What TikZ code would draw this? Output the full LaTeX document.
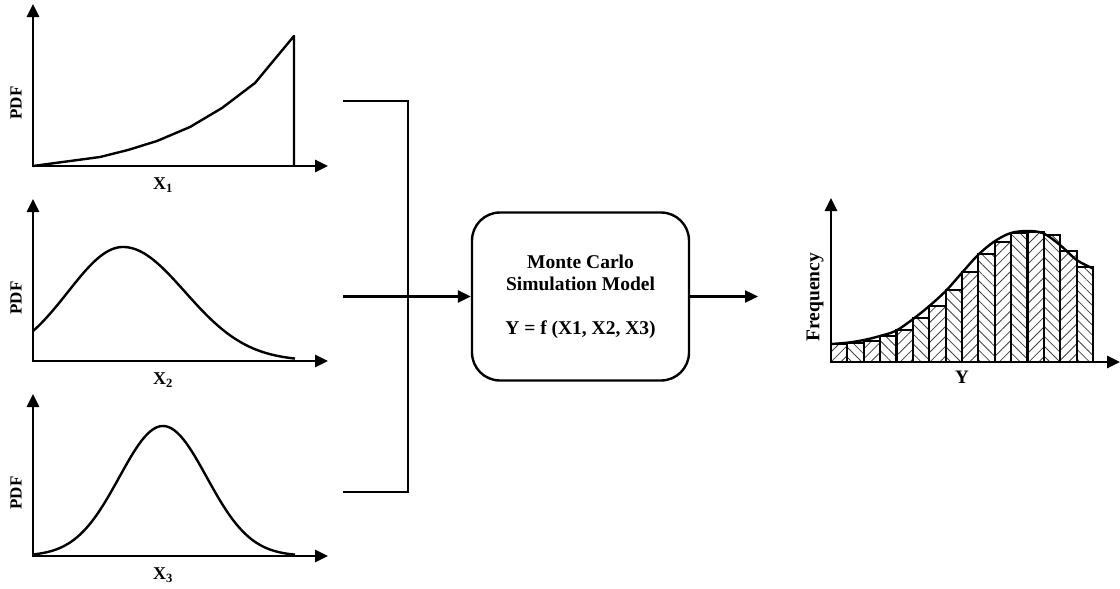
\documentclass[tikz,border=0pt]{standalone}
\usepackage{fontspec}
\setmainfont{Liberation Serif}
\usetikzlibrary{arrows.meta,patterns.meta}
\begin{document}
\begin{tikzpicture}[x=1pt,y=-1pt,
  axes/.style={line width=2.8pt,{Triangle[length=13pt,width=12pt]}-{Triangle[length=13pt,width=12pt]}},
  curve/.style={line width=2.4pt,line join=round},
  conn/.style={line width=2.4pt},
  arr/.style={line width=2.4pt,-{Triangle[length=13pt,width=12pt]}},
  pdflbl/.style={font=\bfseries\fontsize{17}{19}\selectfont,inner sep=0pt,rotate=90},
  xlbl/.style={font=\bfseries\fontsize{18}{20}\selectfont,inner sep=0pt},
  bar/.style={line width=2.2pt},
  model/.style={draw,line width=2.4pt,rounded corners=28pt,minimum width=217pt,minimum height=168pt,align=center,inner sep=0pt,font=\bfseries\fontsize{19.5}{22}\selectfont}
]
\useasboundingbox (0,0) rectangle (1120,589);

% three input charts
\foreach \dy/\k in {0/1,195/2,390/3}{
  \coordinate (o\k) at (33,166+\dy);
  \coordinate (yt\k) at (33,4+\dy);
  \coordinate (xt\k) at (328,166+\dy);
  \draw[axes] (yt\k) -- (o\k) -- (xt\k);
  \node[pdflbl] (pdf\k) at (16,103+\dy) {PDF};
  \node[xlbl] (x\k) at (163,185+\dy) {X\textsubscript{\k}};
}

% chart 1 curve
\draw[curve] (33,166) -- (100,157) -- (128,150) -- (157,141) -- (190,127) -- (222,108) -- (255,83) -- (294,36) -- (294,166);

% chart 2 curve (skewed bell)
\draw[curve] plot[domain=33:123,samples=50] (\x,{361-114*exp(-0.5*((\x-123)/55)^2)})
  -- plot[domain=123:295,samples=80] (\x,{361-114*exp(-0.5*((\x-123)/62)^2)});

% chart 3 curve
\draw[curve] plot[domain=33:295,samples=90] (\x,{556-130*exp(-0.5*((\x-163)/43.7)^2)});

% connectors
\coordinate (b1) at (343,101);
\coordinate (b2) at (343,296.5);
\coordinate (b3) at (343,492);
\coordinate (j1) at (408,101);
\coordinate (j3) at (408,492);
\draw[conn] (b1) -- (j1) -- (j3) -- (b3);

\node[model] (mc) at (580.5,296.5) {Monte Carlo\\Simulation Model\\[22pt]Y = f (X1, X2, X3)};
\draw[arr] (b2) -- (mc.west);
\coordinate (out) at (758,296.5);
\draw[arr] (mc.east) -- (out);

% histogram
\foreach \h [count=\i from 0] in {344,342.7,340.7,336,330,318.3,306,290,271.7,254,241.7,233.3,231.7,235,250.7,266.7}{
  \pgfmathsetmacro\xa{831+\i*16.375}
  \pgfmathsetmacro\xb{831+(\i+1)*16.375}
  \pgfmathsetmacro\ang{ifthenelse(mod(\i,2)==0,45,-45)}
  \draw[bar,pattern={Lines[angle=\ang,distance=7pt,line width=0.8pt]},pattern color=black!75] (\xa,362) rectangle (\xb,\h);
}
\draw[curve] plot[smooth,tension=0.55] coordinates {(830.7,344) (847.3,342.7) (864,340) (880,336) (896,330.7) (912.7,319.3) (929.3,306) (946,290.7) (962,272.7) (978,255) (994,241.7) (1010,233.3) (1026.7,231) (1043.3,233.3) (1060,245) (1076.7,260) (1092.7,268.3)};
\coordinate (ho) at (831,362);
\coordinate (hy) at (831,198);
\coordinate (hx) at (1120,362);
\draw[axes] (hy) -- (ho) -- (hx);
\node[pdflbl,font=\bfseries\fontsize{19.5}{21}\selectfont] (freq) at (815,297) {Frequency};
\node[xlbl,font=\bfseries\fontsize{19}{21}\selectfont] (ylbl) at (962,377) {Y};
\end{tikzpicture}
\end{document}
